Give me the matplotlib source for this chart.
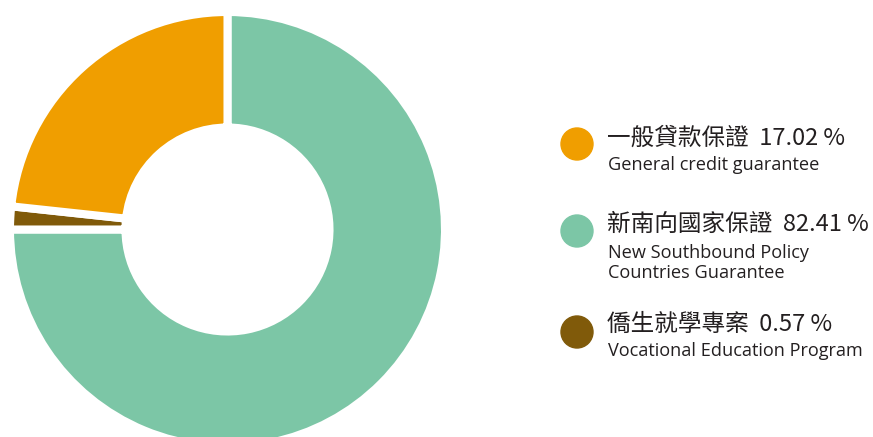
import matplotlib.pyplot as plt

W, H = 873, 437

# drawn shares (as read from the ring) and the printed label values
slice_names = ["新南向國家保證", "僑生就學專案", "一般貸款保證"]
slice_shares = [75.0, 1.7, 23.3]
slice_colors = ["#7CC6A6", "#805A0A", "#F09E00"]

legend_cn = ["一般貸款保證", "新南向國家保證", "僑生就學專案"]
legend_pct = ["17.02 %", "82.41 %", "0.57 %"]
legend_en = [["General credit guarantee"],
             ["New Southbound Policy", "Countries Guarantee"],
             ["Vocational Education Program"]]
legend_colors = ["#F09E00", "#7CC6A6", "#805A0A"]

TEXT = "#231F20"
CJK = ["Noto Sans CJK TC", "DejaVu Sans"]

fig = plt.figure(figsize=(W / 100, H / 100), dpi=100)

# donut: centre (227.5, 229.5) px, half-size 217.5 px
cx, cy, R = 227.5, 229.5, 217.5
ax = fig.add_axes([(cx - R) / W, (H - cy - R) / H, 2 * R / W, 2 * R / H])
ax.pie(slice_shares, colors=slice_colors, startangle=90, counterclock=False,
       radius=1, wedgeprops=dict(width=0.531, edgecolor="white", linewidth=5.8))
ax.set_xlim(-1, 1)
ax.set_ylim(-1, 1)
ax.set_aspect("equal")
ax.axis("off")


def px(x, y):
    return x / W, 1 - y / H


# legend
dot_y = [144, 231, 332]
cn_y = [138, 224, 324]
en_y = [169.5, 257.5, 356.5]
lax = fig.add_axes([0, 0, 1, 1])
lax.set_xlim(0, W)
lax.set_ylim(H, 0)
lax.axis("off")
for i in range(3):
    lax.add_patch(plt.Circle((577, dot_y[i]), 16, color=legend_colors[i]))
    fig.text(*px(607, cn_y[i]), legend_cn[i] + "  " + legend_pct[i],
             family=CJK, fontsize=17, color=TEXT, va="center", ha="left")
    for j, line in enumerate(legend_en[i]):
        fig.text(*px(608, en_y[i] + 20 * j), line, family="Open Sans",
                 fontsize=13.1, color=TEXT, va="baseline", ha="left")

fig.savefig("out.png", dpi=100)
